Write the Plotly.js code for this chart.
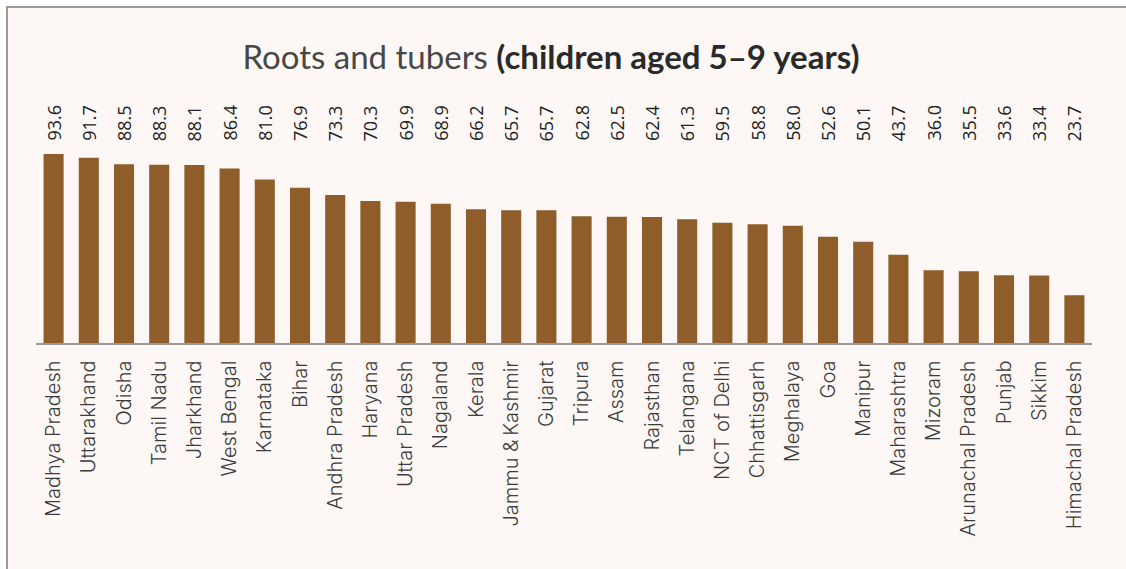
<!DOCTYPE html>
<html>
<head>
<meta charset="utf-8">
<script src="https://cdn.plot.ly/plotly-3.0.1.min.js"></script>
<style>
  html, body { margin: 0; padding: 0; background: #ffffff; }
  #wrap { position: absolute; left: 6px; top: 6px; width: 1120px; height: 563px;
          border-left: 2px solid #9a9a9a; border-top: 2px solid #9a9a9a; background: #fdf8f5; }
  #chart { width: 1118px; height: 561px; }
</style>
</head>
<body>
<div id="wrap"><div id="chart"></div></div>
<script>
const states = ["Madhya Pradesh","Uttarakhand","Odisha","Tamil Nadu","Jharkhand","West Bengal","Karnataka","Bihar","Andhra Pradesh","Haryana","Uttar Pradesh","Nagaland","Kerala","Jammu &\u2009Kashmir","Gujarat","Tripura","Assam","Rajasthan","Telangana","NCT of Delhi","Chhattisgarh","Meghalaya","Goa","Manipur","Maharashtra","Mizoram","Arunachal Pradesh","Punjab","Sikkim","Himachal Pradesh"];
const values = [93.6,91.7,88.5,88.3,88.1,86.4,81.0,76.9,73.3,70.3,69.9,68.9,66.2,65.7,65.7,62.8,62.5,62.4,61.3,59.5,58.8,58.0,52.6,50.1,43.7,36.0,35.5,33.6,33.4,23.7];
const labels = values.map(v => v.toFixed(1));

const trace = {
  type: "bar",
  x: states,
  y: values,
  marker: { color: "#8f5d29" },
  hoverinfo: "skip"
};

const annotations = states.map((s, i) => ({
  x: s, y: 0.99, xref: "x", yref: "paper",
  text: labels[i], showarrow: false, textangle: -90,
  xanchor: "center", yanchor: "bottom",
  font: { family: "Open Sans, sans-serif", size: 18, color: "#222222" }
}));

const layout = {
  width: 1118, height: 561,
  margin: { l: 27.5, r: 33.5, t: 133, b: 226 },
  paper_bgcolor: "#fdf8f5",
  plot_bgcolor: "#fdf8f5",
  bargap: 0.43,
  showlegend: false,
  title: {
    text: "<span style='color:#474747'>Roots and tubers </span><b>(children aged 5\u20139 years)</b>",
    font: { family: "Lato, sans-serif", size: 33, color: "#2a2a2a" },
    x: 0.4857, xref: "container", xanchor: "center",
    y: 1 - (57 - 8) / 561, yref: "container", yanchor: "middle"
  },
  xaxis: {
    type: "category",
    tickangle: -90,
    tickfont: { family: "Inter, sans-serif", size: 20, color: "#3c3c3c", weight: 300 },
    ticks: "outside", ticklen: 8, tickcolor: "rgba(0,0,0,0)",
    showline: true, linecolor: "#999999", linewidth: 1.5,
    showgrid: false, zeroline: false
  },
  yaxis: {
    range: [0, 100],
    visible: false,
    showgrid: false, zeroline: false
  },
  annotations: annotations
};

Plotly.newPlot("chart", [trace], layout, { displayModeBar: false, staticPlot: true });
</script>
</body>
</html>
